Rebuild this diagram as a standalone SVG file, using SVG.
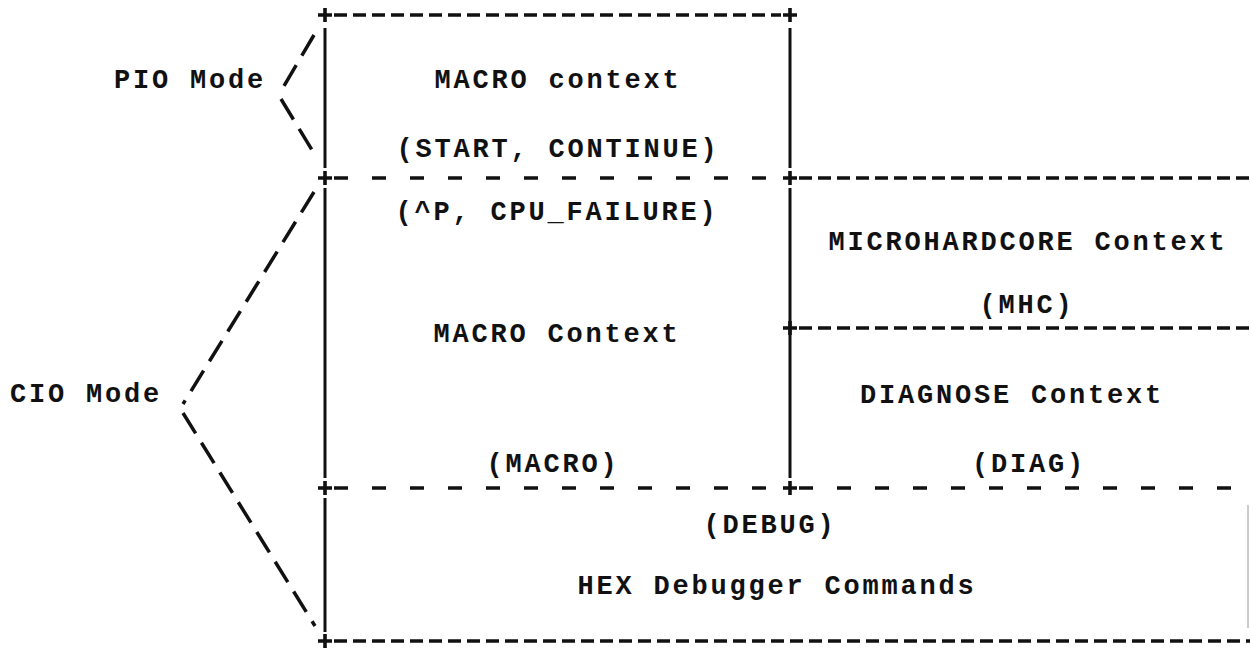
<svg xmlns="http://www.w3.org/2000/svg" width="1250" height="652" viewBox="0 0 1250 652">
  <style>
    .t { font-family: "Liberation Mono", "DejaVu Sans Mono", monospace; font-weight: bold; font-size: 27px; letter-spacing: 2.8px; fill: #111; text-anchor: middle; }
    .solid { stroke: #111; stroke-width: 3; fill: none; }
    .dense { stroke: #111; stroke-width: 3.4; fill: none; stroke-dasharray: 13 6; }
    .sparse { stroke: #111; stroke-width: 3.4; fill: none; stroke-dasharray: 14 24; }
    .diag { stroke: #111; stroke-width: 3.5; fill: none; stroke-dasharray: 24 11; }
    .plus { stroke: #111; stroke-width: 3.6; fill: none; }
  </style>

  <g id="connectors">
    <!-- outer frame verticals -->
    <path class="solid" d="M325 28 V168 M325 188 V478 M325 498 V632"/>
    <path class="solid" d="M790 28 V168 M790 188 V478"/>
    <path d="M1248 505 V628" stroke="#999" stroke-width="1" fill="none"/>

    <!-- horizontal rules -->
    <path class="dense" d="M334 15 H781"/>
    <path class="sparse" d="M334 178 H781"/>
    <path class="dense" d="M799 178 H1250"/>
    <path class="dense" d="M799 328 H1250"/>
    <path class="sparse" d="M334 488 H781"/>
    <path class="sparse" d="M799 488 H1250"/>
    <path class="dense" d="M334 641 H1250"/>

    <!-- corner / junction crosses -->
    <path class="plus" d="M318 15 H332 M325 8 V22 M783 15 H797 M790 8 V22"/>
    <path class="plus" d="M318 178 H332 M325 171 V185 M783 178 H797 M790 171 V185"/>
    <path class="plus" d="M783 328 H797 M790 321 V335"/>
    <path class="plus" d="M318 488 H332 M325 481 V495 M783 488 H797 M790 481 V495"/>
    <path class="plus" d="M318 641 H332 M325 634 V648"/>

    <!-- mode braces -->
    <path class="diag" d="M314 35 L281 91"/>
    <path class="diag" d="M281 99 L315 155"/>
    <path class="diag" d="M314 192 L183 404"/>
    <path class="diag" d="M183 413 L315 626"/>
  </g>

  <g id="pio-mode"><text class="t" x="190" y="88">PIO Mode</text></g>
  <g id="cio-mode"><text class="t" x="86" y="402">CIO Mode</text></g>

  <g id="macro-pio">
    <text class="t" x="558" y="88">MACRO context</text>
    <text class="t" x="558" y="157">(START, CONTINUE)</text>
  </g>

  <g id="macro-cio">
    <text class="t" x="557" y="220">(^P, CPU_FAILURE)</text>
    <text class="t" x="557" y="342">MACRO Context</text>
    <text class="t" x="553" y="472">(MACRO)</text>
  </g>

  <g id="microhardcore">
    <text class="t" x="1028" y="250">MICROHARDCORE Context</text>
    <text class="t" x="1027" y="313">(MHC)</text>
  </g>

  <g id="diagnose">
    <text class="t" x="1012" y="403">DIAGNOSE Context</text>
    <text class="t" x="1029" y="472">(DIAG)</text>
  </g>

  <g id="debug">
    <text class="t" x="770" y="533">(DEBUG)</text>
    <text class="t" x="777" y="594">HEX Debugger Commands</text>
  </g>
</svg>
